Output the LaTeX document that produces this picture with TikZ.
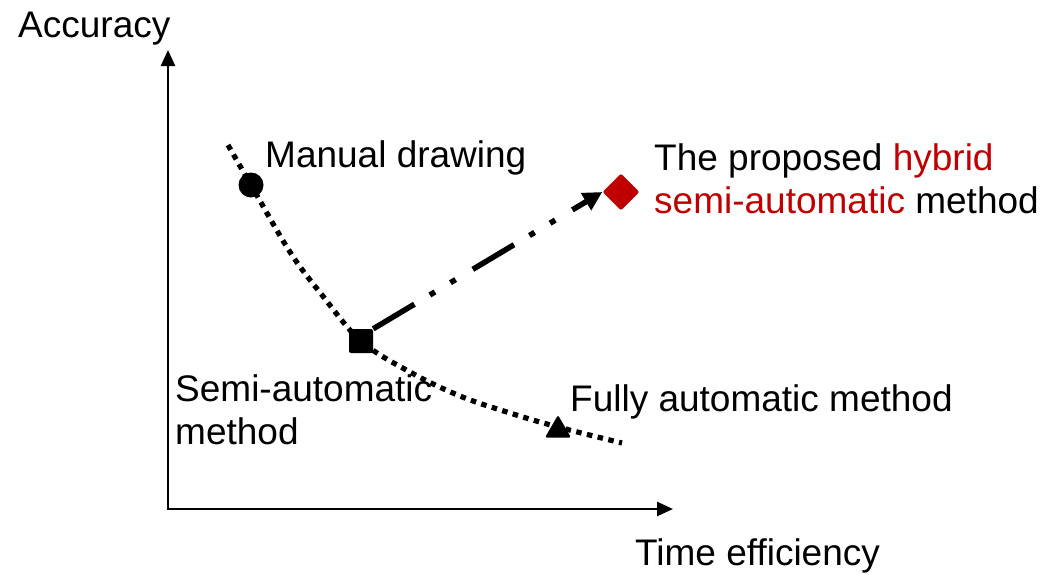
\documentclass[tikz,border=0pt]{standalone}
\usepackage{fontspec}
\setmainfont{Liberation Sans}
\usetikzlibrary{arrows.meta,shapes.geometric}
\definecolor{hybridred}{HTML}{C00000}
\begin{document}
\begin{tikzpicture}[x=1pt,y=-1pt,
  lbl/.style={font=\fontsize{37}{43}\selectfont, inner sep=0pt, anchor=base west, align=left},
  axis/.style={line width=2.6pt, -{Triangle[length=16pt,width=14pt]}},
  trend/.style={line width=5.2pt, dash pattern=on 5.5pt off 5.5pt},
  methodmark/.style={fill=black, inner sep=0pt, draw=none}]
\useasboundingbox (0,0) rectangle (1046,574);
% axes
\coordinate (origin) at (168,509);
\coordinate (ytip) at (168,50);
\coordinate (xtip) at (673,509);
\draw[axis] ([yshift=1.3pt]origin) -- (ytip);
\draw[axis] ([xshift=-1.3pt]origin) -- (xtip);
\node[lbl] (ylabel) at (18,37) {Accuracy};
\node[lbl] (xlabel) at (635,565) {Time efficiency};
% trade-off curve
\coordinate (c0) at (228,145);
\coordinate (c9) at (622,443);
\draw[trend] plot[smooth, tension=0.6] coordinates
  {(c0) (251,185) (290,252) (322,295) (361,341) (410,372) (460,396) (510,413) (558,427) (c9)};
% methods
\node[methodmark, circle, minimum size=25pt] (manual) at (251,185) {};
\node[methodmark, rectangle, rounded corners=2pt, minimum size=24pt] (semi) at (361,341) {};
\node[methodmark, regular polygon, regular polygon sides=3, minimum size=30pt, rounded corners=1.5pt] (fully) at (558,430) {};
\node[fill=hybridred, diamond, rounded corners=2pt, inner sep=0pt, minimum size=37pt] (hybrid) at (621,192) {};
% improvement arrow
\draw[line width=5.5pt, dash pattern=on 48pt off 18pt on 6pt off 18pt on 6pt off 20pt,
  -{Triangle[length=19pt,width=19pt]}] (semi.north east) -- (hybrid.west);
% labels (multi-line nodes sit on the baseline of their last line)
\node[lbl] (tmanual) at (265,167) {Manual drawing};
\node[lbl] (thybrid) at (654,213) {The proposed \textcolor{hybridred}{hybrid}\\\textcolor{hybridred}{semi-automatic} method};
\node[lbl] (tsemi) at (175,444) {Semi-automatic\\method};
\node[lbl] (tfully) at (570,411) {Fully automatic method};
\end{tikzpicture}
\end{document}
